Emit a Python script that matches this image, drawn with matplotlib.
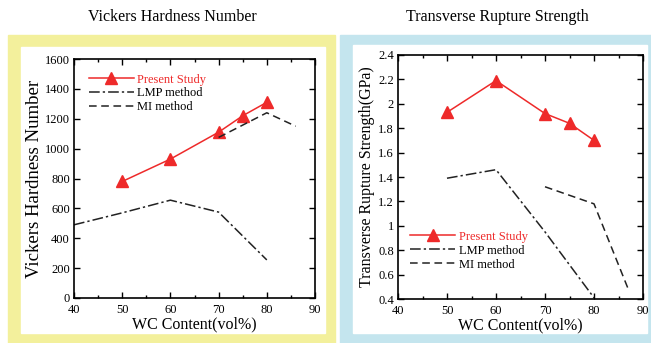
import matplotlib.pyplot as plt
from matplotlib.patches import Rectangle
from matplotlib.ticker import MultipleLocator, FormatStrFormatter

plt.rcParams['font.family'] = ['Liberation Serif', 'DejaVu Serif']

# Vickers hardness data
vh_ps_x = [50, 60, 70, 75, 80]
vh_ps_y = [780, 930, 1110, 1220, 1310]
vh_lmp_x = [40, 50, 60, 70, 80]
vh_lmp_y = [490, 570, 655, 575, 255]
vh_mi_x = [70, 80, 86]
vh_mi_y = [1075, 1240, 1150]

# Transverse rupture strength data
trs_ps_x = [50, 60, 70, 75, 80]
trs_ps_y = [1.93, 2.19, 1.92, 1.84, 1.70]
trs_lmp_x = [50, 60, 70, 80]
trs_lmp_y = [1.39, 1.46, 0.95, 0.41]
trs_mi_x = [70, 80, 87]
trs_mi_y = [1.32, 1.18, 0.48]

W, H = 651, 343
fig = plt.figure(figsize=(W / 100, H / 100), dpi=100)


def box(x0, y0, x1, y1, color):
    fig.patches.append(Rectangle((x0 / W, 1 - y1 / H), (x1 - x0) / W, (y1 - y0) / H,
                                 transform=fig.transFigure, color=color, zorder=-10))


box(8, 35, 335, 343, '#f3f09c')
box(21, 47, 325, 333, 'white')
box(340, 35, 651, 343, '#c4e5ee')
box(353, 45, 647, 333, 'white')


def make_ax(x0, y0, x1, y1):
    return fig.add_axes([x0 / W, 1 - y1 / H, (x1 - x0) / W, (y1 - y0) / H])


red = '#ee2a2a'

ax1 = make_ax(74, 59, 315, 298)
ax1.plot(vh_ps_x, vh_ps_y, color=red, lw=1.1, marker='^', ms=9, label='Present Study')
ax1.plot(vh_lmp_x, vh_lmp_y, color='#222222', lw=1.1, ls=(0, (7, 2, 1.5, 2)), label='LMP method')
ax1.plot(vh_mi_x, vh_mi_y, color='#222222', lw=1.1, ls=(0, (5, 3)), label='MI method')
ax1.set_xlim(40, 90)
ax1.set_ylim(0, 1600)
ax1.yaxis.set_major_locator(MultipleLocator(200))
ax1.set_ylabel('Vickers Hardness Number', fontsize=13.5, labelpad=1)
leg1 = ax1.legend(loc='upper left', bbox_to_anchor=(0.04, 0.96), frameon=False, fontsize=9,
                  handlelength=3.6, handletextpad=0.3, labelspacing=0.15, borderaxespad=0)
fig.text(172 / W, 1 - 17 / H, 'Vickers Hardness Number', ha='center', va='center', fontsize=11.5)

ax2 = make_ax(398, 55, 643, 299)
ax2.plot(trs_ps_x, trs_ps_y, color=red, lw=1.1, marker='^', ms=9, label='Present Study')
ax2.plot(trs_lmp_x, trs_lmp_y, color='#222222', lw=1.1, ls=(0, (7, 2, 1.5, 2)), label='LMP method')
ax2.plot(trs_mi_x, trs_mi_y, color='#222222', lw=1.1, ls=(0, (5, 3)), label='MI method')
ax2.set_xlim(40, 90)
ax2.set_ylim(0.4, 2.4)
ax2.yaxis.set_major_locator(MultipleLocator(0.2))
ax2.yaxis.set_major_formatter(FormatStrFormatter('%g'))
ax2.set_ylabel('Transverse Rupture Strength(GPa)', fontsize=11.5, labelpad=2)
leg2 = ax2.legend(loc='upper left', bbox_to_anchor=(0.03, 0.30), frameon=False, fontsize=9,
                  handlelength=3.6, handletextpad=0.3, labelspacing=0.15, borderaxespad=0)
fig.text(497 / W, 1 - 17 / H, 'Transverse Rupture Strength', ha='center', va='center', fontsize=11.5)

for ax, leg in [(ax1, leg1), (ax2, leg2)]:
    leg.get_texts()[0].set_color(red)
    ax.xaxis.set_major_locator(MultipleLocator(10))
    ax.xaxis.set_minor_locator(MultipleLocator(5))
    ax.tick_params(which='both', direction='in', top=True, right=True, labelsize=9)
    ax.tick_params(axis='y', which='both', pad=3)
    ax.tick_params(axis='x', which='both', pad=4.5)
    ax.tick_params(which='major', length=4, width=1)
    ax.tick_params(which='minor', length=2.5, width=1)
    ax.set_xlabel('WC Content(vol%)', fontsize=11.5, labelpad=0)
    for s in ax.spines.values():
        s.set_linewidth(1.2)
    ax.set_facecolor('none')

fig.savefig('out.png', dpi=100)
